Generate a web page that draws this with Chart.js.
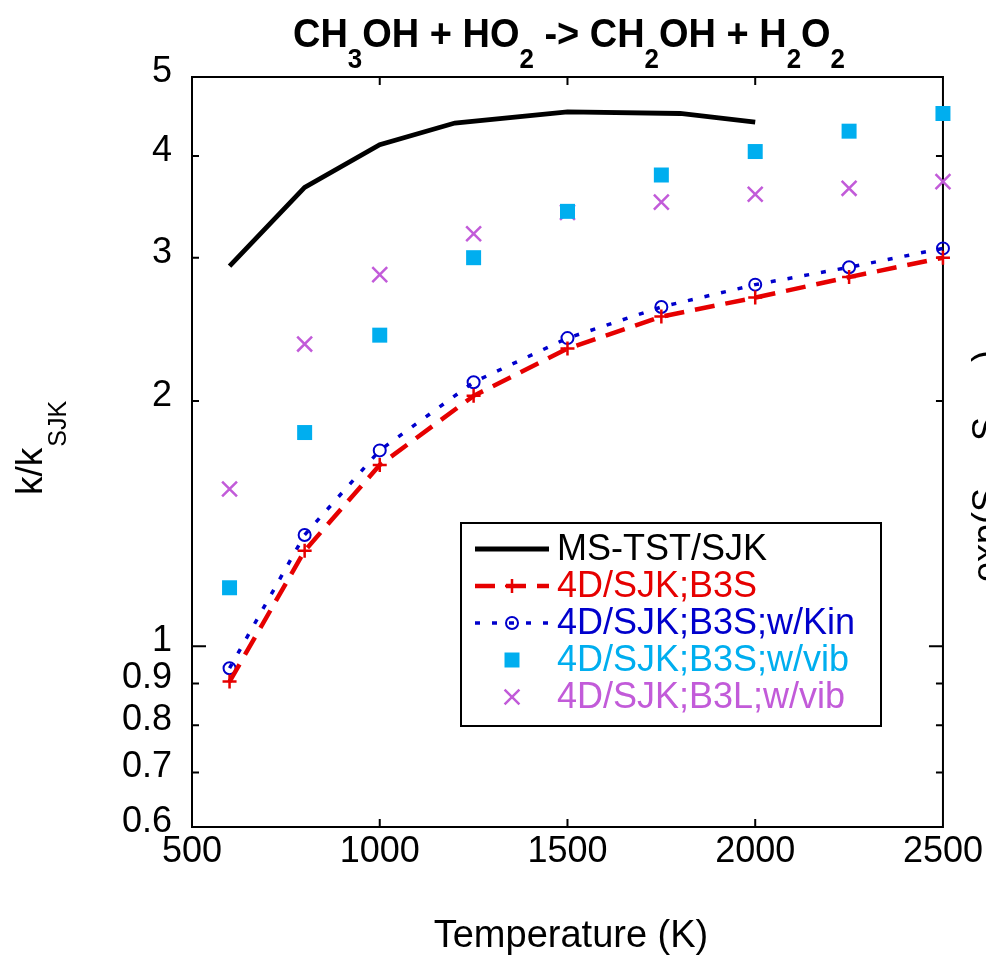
<!DOCTYPE html>
<html><head><meta charset="utf-8">
<script src="https://cdn.jsdelivr.net/npm/chart.js@4.4.0/dist/chart.umd.min.js"></script>
<style>html,body{margin:0;padding:0;background:#fff;overflow:hidden}#wrap{width:986px;height:958px;position:relative}</style>
</head><body><div id="wrap"><canvas id="c" width="986" height="958"></canvas></div>
<script>
// ---- data ----
const tempsLine = [600, 800, 1000, 1200, 1500, 1800, 2000];
const msTstSJK  = [2.93, 3.66, 4.13, 4.39, 4.53, 4.51, 4.40];
const temps     = [600, 800, 1000, 1250, 1500, 1750, 2000, 2250, 2500];
const b3s       = [0.905, 1.31, 1.67, 2.03, 2.32, 2.54, 2.68, 2.84, 3.00];
const b3sKin    = [0.94, 1.37, 1.74, 2.11, 2.39, 2.61, 2.78, 2.92, 3.08];
const b3sVib    = [1.18, 1.83, 2.41, 3.00, 3.42, 3.79, 4.05, 4.29, 4.51];
const b3lVib    = [1.56, 2.35, 2.86, 3.21, 3.41, 3.51, 3.59, 3.65, 3.72];
const xTicks = [500, 1000, 1500, 2000, 2500];
const yTicks = [0.6, 0.7, 0.8, 0.9, 1, 2, 3, 4, 5];
const seriesNames = ['MS-TST/SJK', '4D/SJK;B3S', '4D/SJK;B3S;w/Kin', '4D/SJK;B3S;w/vib', '4D/SJK;B3L;w/vib'];
const titleParts = [['CH',0],['3',1],['OH + HO',0],['2',1],[' -> CH',0],['2',1],['OH + H',0],['2',1],['O',0],['2',1]];
const xTitle = 'Temperature (K)';
const yTitleMain = 'k/k', yTitleSub = 'SJK';
const sideParts = [['exp(S', 582], ['S', 441], [')', 362]];

const FONT = '"Liberation Sans", Arial, Helvetica, sans-serif';
const pts = (xs, ys) => xs.map((x, i) => ({x: x, y: ys[i]}));

const RED = '#e60000', BLUE = '#0000cc', CYAN = '#00aeef', PURPLE = '#c25bd9';

const datasets = [
  {label: seriesNames[0], data: pts(tempsLine, msTstSJK), borderColor: '#000', borderWidth: 4.8,
   pointRadius: 0, fill: false, tension: 0, clip: false, textColor: '#000'},
  {label: seriesNames[1], data: pts(temps, b3s), borderColor: RED, borderWidth: 4.5, borderDash: [20, 11],
   pointStyle: 'cross', pointRadius: 7, pointBorderWidth: 2.5, pointBorderColor: RED, pointBackgroundColor: RED,
   fill: false, tension: 0, clip: false, textColor: RED},
  {label: seriesNames[2], data: pts(temps, b3sKin), borderColor: BLUE, borderWidth: 3.5, borderDash: [5, 12],
   pointStyle: 'circle', pointRadius: 6, pointBorderWidth: 2, pointBorderColor: BLUE, pointBackgroundColor: 'rgba(0,0,0,0)',
   fill: false, tension: 0, clip: false, textColor: BLUE},
  {label: seriesNames[3], data: pts(temps, b3sVib), showLine: false, borderColor: CYAN, borderWidth: 0,
   pointStyle: 'rect', pointRadius: 10.6, pointBorderWidth: 0, pointBorderColor: CYAN, pointBackgroundColor: CYAN,
   clip: false, textColor: CYAN},
  {label: seriesNames[4], data: pts(temps, b3lVib), showLine: false, borderColor: PURPLE, borderWidth: 0,
   pointStyle: 'crossRot', pointRadius: 10.5, pointBorderWidth: 2.5, pointBorderColor: PURPLE, pointBackgroundColor: PURPLE,
   clip: false, textColor: PURPLE}
];

const decor = {
  id: 'decor',
  beforeDatasetsDraw(chart) {
    const {ctx, chartArea: a, scales: {x, y}} = chart;
    ctx.save();
    ctx.strokeStyle = '#000'; ctx.lineWidth = 2;
    ctx.strokeRect(a.left, a.top, a.right - a.left, a.bottom - a.top);
    ctx.beginPath();
    xTicks.forEach(v => {
      if (v === x.min || v === x.max) return;
      const p = x.getPixelForValue(v);
      ctx.moveTo(p, a.bottom); ctx.lineTo(p, a.bottom - 8);
      ctx.moveTo(p, a.top); ctx.lineTo(p, a.top + 8);
    });
    yTicks.forEach(v => {
      if (v === y.min || v === y.max) return;
      const p = y.getPixelForValue(v);
      const L = v === 1 ? 14 : 7;
      ctx.moveTo(a.left, p); ctx.lineTo(a.left + L, p);
      ctx.moveTo(a.right, p); ctx.lineTo(a.right - L, p);
    });
    ctx.stroke();
    ctx.restore();
  },
  afterDraw(chart) {
    const {ctx} = chart;
    ctx.save();
    ctx.fillStyle = '#000';
    // title with subscripts
    let total = 0;
    titleParts.forEach(([t, s]) => { ctx.font = 'bold ' + (s ? 28 : 41) + 'px ' + FONT; total += ctx.measureText(t).width; });
    const sx = 552 / total;
    ctx.save();
    ctx.translate(293, 47); ctx.scale(sx, 1);
    let cx = 0;
    ctx.textBaseline = 'alphabetic'; ctx.textAlign = 'left';
    titleParts.forEach(([t, s]) => {
      ctx.font = 'bold ' + (s ? 28 : 41) + 'px ' + FONT;
      ctx.fillText(t, cx, s ? 21 : 0);
      cx += ctx.measureText(t).width;
    });
    ctx.restore();
    // x title
    ctx.font = '38px ' + FONT; ctx.textAlign = 'center'; ctx.textBaseline = 'alphabetic';
    ctx.fillText(xTitle, 571, 947);
    // y title
    ctx.save();
    ctx.translate(42, 495); ctx.rotate(-Math.PI / 2);
    ctx.textAlign = 'left';
    ctx.font = '37px ' + FONT; ctx.fillText(yTitleMain, 0, 0);
    const w = ctx.measureText(yTitleMain).width;
    ctx.font = '25px ' + FONT; ctx.fillText(yTitleSub, w + 1, 24);
    ctx.restore();
    // partial neighbouring label at right edge
    ctx.save();
    ctx.font = '36px ' + FONT; ctx.textAlign = 'left';
    sideParts.forEach(([t, yy]) => {
      ctx.save(); ctx.translate(998, yy); ctx.rotate(-Math.PI / 2); ctx.fillText(t, 0, 0); ctx.restore();
    });
    ctx.restore();
    // legend
    const L = {x1: 461, y1: 523, x2: 881, y2: 726, rows: [549, 586, 623, 660, 697], s1: 475, s2: 549, tx: 557};
    ctx.fillStyle = '#fff'; ctx.fillRect(L.x1, L.y1, L.x2 - L.x1, L.y2 - L.y1);
    ctx.strokeStyle = '#000'; ctx.lineWidth = 2; ctx.setLineDash([]);
    ctx.strokeRect(L.x1, L.y1, L.x2 - L.x1, L.y2 - L.y1);
    chart.data.datasets.forEach((ds, i) => {
      const yy = L.rows[i];
      if (ds.showLine !== false) {
        ctx.save(); ctx.strokeStyle = ds.borderColor; ctx.lineWidth = ds.borderWidth;
        ctx.setLineDash(ds.borderDash || []); ctx.beginPath(); ctx.moveTo(L.s1, yy); ctx.lineTo(L.s2, yy); ctx.stroke(); ctx.restore();
      }
      if (ds.pointRadius > 0) {
        ctx.save(); ctx.strokeStyle = ds.pointBorderColor; ctx.fillStyle = ds.pointBackgroundColor;
        ctx.lineWidth = ds.pointBorderWidth; ctx.setLineDash([]);
        Chart.helpers.drawPoint(ctx, {pointStyle: ds.pointStyle, radius: ds.pointRadius, borderWidth: ds.pointBorderWidth, rotation: 0}, (L.s1 + L.s2) / 2, yy);
        ctx.restore();
      }
      ctx.fillStyle = ds.textColor; ctx.font = '36px ' + FONT; ctx.textAlign = 'left'; ctx.textBaseline = 'middle';
      ctx.fillText(ds.label, L.tx, yy + 1);
    });
    ctx.restore();
  }
};

new Chart(document.getElementById('c'), {
  type: 'line',
  data: {datasets: datasets},
  options: {
    responsive: false, animation: false, devicePixelRatio: 1, events: [],
    layout: {padding: {left: 0, right: 43, top: 77, bottom: 0}},
    plugins: {legend: {display: false}, title: {display: false}, tooltip: {enabled: false}},
    scales: {
      x: {
        type: 'linear', min: 500, max: 2500,
        grid: {display: false, drawTicks: false}, border: {display: false},
        afterBuildTicks: s => { s.ticks = xTicks.map(v => ({value: v})); },
        afterFit: s => { s.height = 131; },
        ticks: {padding: 3, color: '#000', font: {family: FONT, size: 36}, maxRotation: 0, autoSkip: false,
                callback: v => String(v)}
      },
      y: {
        type: 'logarithmic', min: 0.6, max: 5,
        grid: {display: false, drawTicks: false}, border: {display: false},
        afterBuildTicks: s => { s.ticks = yTicks.map(v => ({value: v})); },
        afterFit: s => { s.width = 192; },
        ticks: {padding: 20, labelOffset: -5, color: '#000', font: {family: FONT, size: 36}, autoSkip: false,
                callback: v => String(v)}
      }
    }
  },
  plugins: [decor]
});
</script>
</body></html>
